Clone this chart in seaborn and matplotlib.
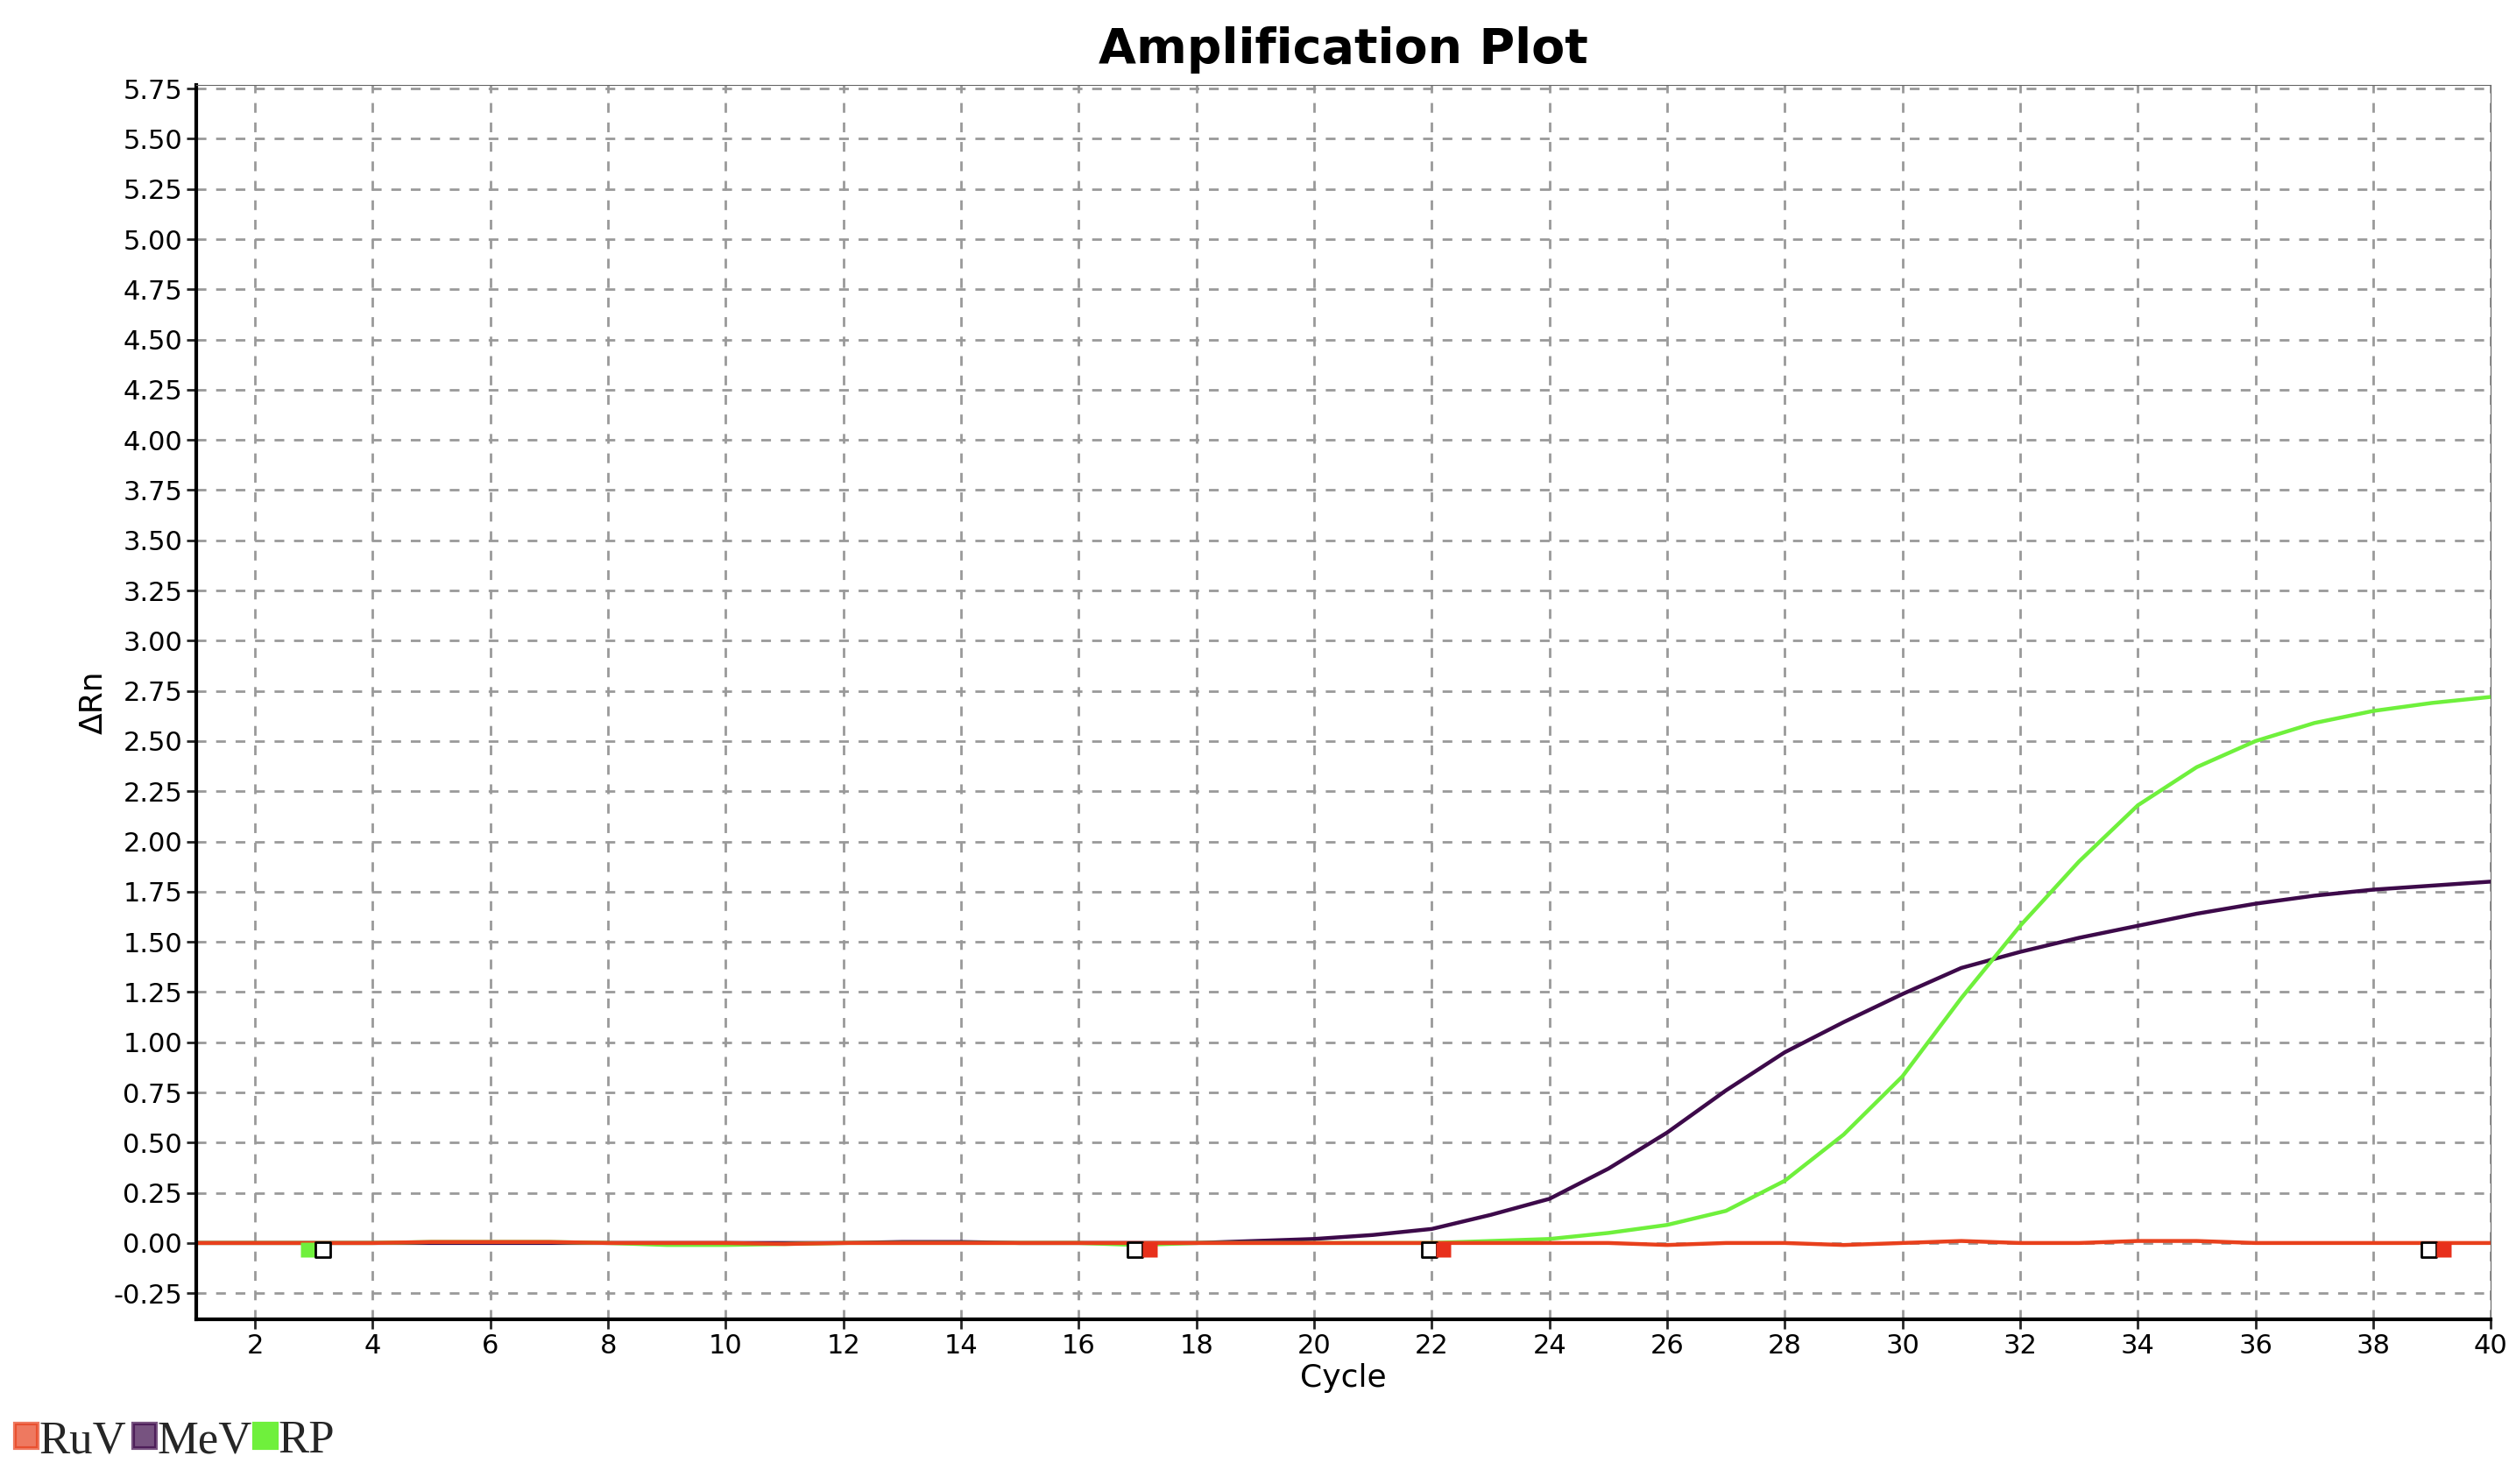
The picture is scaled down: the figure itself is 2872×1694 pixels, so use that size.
import matplotlib
matplotlib.use("Agg")
import matplotlib.pyplot as plt
import seaborn as sns
import pandas as pd
import numpy as np

cycles = list(range(1, 41))
mev = [0,0,0,0,0,0,0,0,0,0,0,0,0.005,0.005,0,0,0,0,0.01,0.02,0.04,0.07,0.14,0.22,0.37,0.55,0.76,0.95,1.1,1.24,1.37,1.45,1.52,1.58,1.64,1.69,1.73,1.76,1.78,1.80]
rp = [0,0,0,0,0.005,0.005,0.005,0,-0.01,-0.01,-0.005,0,0,0,0,0,-0.01,0,0,0,0,0,0.01,0.02,0.05,0.09,0.16,0.31,0.54,0.83,1.22,1.58,1.9,2.18,2.37,2.5,2.59,2.65,2.69,2.72]
ruv = [0,0,0,0,0.005,0.005,0.005,0,0,0,-0.005,0,0,0,0,0,0,0,0,0,0,0,0,0,0,-0.01,0,0,-0.01,0,0.01,0,0,0.01,0.01,0,0,0,0,0]
series = ["RuV", "MeV", "RP"]
colors = {"RuV": "#e8401c", "MeV": "#3d0a4a", "RP": "#6ff03c"}
marker_x = [2.9, 3.15, 16.95, 17.2, 21.95, 22.2, 38.95, 39.2]
marker_c = ["#6ff03c", "white", "white", "#e8301c", "white", "#e8301c", "white", "#e8301c"]

df = pd.concat([pd.DataFrame({"Cycle": cycles, "dRn": v, "s": n}) for n, v in zip(series, [ruv, mev, rp])])

sns.set_style("white")
fig = plt.figure(figsize=(28.72, 16.94), dpi=100)
ax = fig.add_axes([0.078, 0.111, 0.912, 0.832])
for n in ["MeV", "RP", "RuV"]:
    sns.lineplot(data=df[df.s == n], x="Cycle", y="dRn", color=colors[n], lw=3.2, ax=ax, legend=False)
ax.scatter(marker_x, [-0.035]*len(marker_x), marker="s", s=150, c=marker_c, edgecolors=["none" if c != "white" else "black" for c in marker_c], linewidths=2, zorder=5)
ax.set_xlim(1, 40)
ax.set_ylim(-0.38, 5.77)
ax.set_xticks(range(2, 41, 2))
ax.set_yticks(np.arange(-0.25, 5.76, 0.25))
ax.set_yticklabels([f"{v:.2f}" for v in np.arange(-0.25, 5.76, 0.25)])
ax.tick_params(labelsize=22, length=8, width=2, direction="out", left=True, bottom=True, labelcolor="black")
ax.grid(True, color="#999999", ls=(0, (4, 4)), lw=2)
for s in ["top", "right"]:
    ax.spines[s].set_color("#666666")
for s in ["left", "bottom"]:
    ax.spines[s].set_linewidth(3); ax.spines[s].set_color("black")
ax.set_xlabel("Cycle", fontsize=26, color="black")
ax.set_ylabel("ΔRn", fontsize=26, color="black")
ax.set_title("Amplification Plot", fontsize=40, fontweight="heavy", pad=18, color="black")

x0 = 0.006
for n in series:
    fig.patches.append(plt.Rectangle((x0, 0.024), 0.009, 0.017, transform=fig.transFigure, facecolor=colors[n], alpha=0.7 if n != "RP" else 1, edgecolor=colors[n], lw=3))
    fig.text(x0 + 0.0095, 0.021, n, fontsize=38, family="Liberation Serif")
    x0 += 0.047 if n != "MeV" else 0.048
fig.savefig("out.png", dpi=100)
